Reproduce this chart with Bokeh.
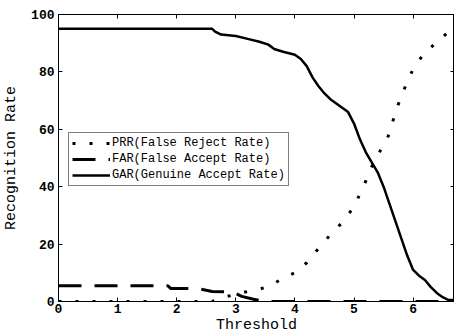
from bokeh.plotting import figure
from bokeh.models import LinearAxis, FixedTicker, Range1d, Legend, LegendItem
from bokeh.embed import file_html
from bokeh.resources import INLINE

# Data
gar_x = [0, 2.6, 2.65, 2.75, 3.0, 3.2, 3.4, 3.55, 3.65, 3.8, 4.0, 4.1, 4.2, 4.3, 4.4, 4.5,
         4.6, 4.7, 4.8, 4.9, 5.0, 5.1, 5.2, 5.3, 5.4, 5.5, 5.6, 5.7, 5.8, 5.9, 6.0, 6.1,
         6.2, 6.3, 6.4, 6.5, 6.6, 6.7]
gar_y = [95, 95, 94, 93, 92.5, 91.5, 90.5, 89.5, 88, 87, 86, 84.5, 82, 78, 75, 72.5,
         70.5, 69, 67.5, 66, 62, 56.5, 52, 48.5, 45, 40, 34, 28, 22, 16, 11, 9,
         7.5, 5, 3, 1.5, 0.5, 0.5]

frr_x = [0, 2.6, 2.8, 3.0, 3.2, 3.4, 3.6, 3.8, 4.0, 4.2, 4.4, 4.6, 4.8, 5.0, 5.1, 5.2,
         5.3, 5.4, 5.5, 5.6, 5.7, 5.8, 5.9, 6.0, 6.1, 6.2, 6.3, 6.4, 6.5, 6.6, 6.7]
frr_y = [0, 0, 1.5, 2.5, 3.5, 4.3, 5.5, 8.3, 10, 13.5, 18.5, 23.3, 27.5, 33, 37.5, 42,
         47, 51, 54.5, 58.5, 66, 71.5, 76.5, 81, 84, 87, 88.5, 90.5, 92.2, 94, 95]

far_x = [0, 1.85, 1.9, 2.35, 2.6, 2.95, 3.1, 3.3, 3.45, 3.5, 6.7]
far_y = [5.5, 5.5, 4.5, 4.5, 3.5, 3.3, 1.8, 0.8, 0.2, 0, 0]

x_ticks = [0, 1, 2, 3, 4, 5, 6]
y_ticks = [0, 20, 40, 60, 80, 100]

labels = ["PRR(False Reject Rate)", "FAR(False Accept Rate)", "GAR(Genuine Accept Rate)"]

FONT = "'Liberation Mono', 'DejaVu Sans Mono', monospace"

p = figure(width=454, height=336, output_backend="svg", toolbar_location=None,
           x_range=Range1d(0, 6.7), y_range=Range1d(0, 100),
           min_border_left=50, min_border_right=0, min_border_top=14, min_border_bottom=0)
p.background_fill_color = "white"
p.border_fill_color = "white"
p.outline_line_color = "black"
p.outline_line_width = 1
p.xgrid.visible = False
p.ygrid.visible = False

for ax in (p.xaxis[0], p.yaxis[0]):
    ax.major_tick_in = 4
    ax.major_tick_out = 0
    ax.minor_tick_line_color = None
    ax.axis_line_color = "black"
    ax.major_tick_line_color = "black"
    ax.major_label_text_font = FONT
    ax.major_label_text_font_size = "13px"
    ax.major_label_text_font_style = "bold"
    ax.major_label_text_color = "black"
    ax.axis_label_text_font = FONT
    ax.axis_label_text_font_size = "15px"
    ax.axis_label_text_font_style = "normal"
    ax.axis_label_text_color = "black"

p.xaxis[0].ticker = FixedTicker(ticks=x_ticks)
p.yaxis[0].ticker = FixedTicker(ticks=y_ticks)
p.xaxis[0].axis_label = "Threshold"
p.yaxis[0].axis_label = "Recognition Rate"
p.xaxis[0].major_label_standoff = 2
p.xaxis[0].axis_label_standoff = 1
p.yaxis[0].major_label_standoff = 4
p.yaxis[0].axis_label_standoff = 8

for loc, ticks in (("above", x_ticks), ("right", y_ticks)):
    ax = LinearAxis(ticker=FixedTicker(ticks=ticks))
    ax.major_tick_in = 4
    ax.major_tick_out = 0
    ax.minor_tick_line_color = None
    ax.major_label_overrides = {t: "" for t in ticks}
    ax.major_label_standoff = 0
    ax.axis_line_color = "black"
    p.add_layout(ax, loc)

r_frr = p.line(frr_x, frr_y, line_color="black", line_width=3, line_dash="3 14")
r_far = p.line(far_x, far_y, line_color="black", line_width=3, line_dash="23 13")
r_gar = p.line(gar_x, gar_y, line_color="black", line_width=2.5)

legend = Legend(items=[LegendItem(label=labels[0], renderers=[r_frr]),
                       LegendItem(label=labels[1], renderers=[r_far]),
                       LegendItem(label=labels[2], renderers=[r_gar])],
                location=(10, 115))
legend.label_text_font = FONT
legend.label_text_font_size = "12px"
legend.label_text_color = "black"
legend.glyph_width = 38
legend.glyph_height = 14
legend.label_height = 14
legend.label_standoff = 2
legend.spacing = 2
legend.padding = 3
legend.margin = 0
legend.border_line_color = "black"
legend.border_line_width = 1
legend.background_fill_color = "white"
legend.background_fill_alpha = 1
p.add_layout(legend, "center")

open("out.html", "w").write(file_html(p, INLINE))
